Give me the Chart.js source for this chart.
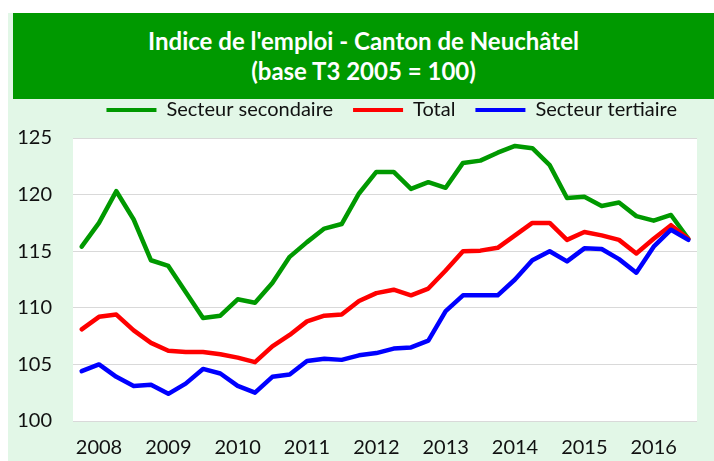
<!DOCTYPE html>
<html>
<head>
<meta charset="utf-8">
<script src="https://cdn.jsdelivr.net/npm/chart.js@4"></script>
<style>
  body { margin: 0; background: #fff; width: 714px; height: 461px; overflow: hidden; position: relative; font-family: Lato, sans-serif; }
  #frame { position: absolute; left: 8px; top: 13px; width: 706px; height: 448px; background: #e2f7e7; }
  #banner { position: absolute; left: 13px; top: 13px; width: 701px; height: 86px; background: #009900; z-index: 2;
            color: #fff; font-weight: bold; font-size: 24px; line-height: 30px; text-align: center;
            display: flex; flex-direction: column; justify-content: center; }
  #wrap { position: absolute; left: 8px; top: 80px; width: 706px; height: 381px; z-index: 1; }
</style>
</head>
<body>
<div id="frame"></div>
<div id="banner"><div>Indice de l'emploi - Canton de Neuchâtel</div><div>(base T3 2005 = 100)</div></div>
<div id="wrap"><canvas id="emploiChart"></canvas></div>
<script>
// quarters T4 2007 .. T3 2016
const quarters = ['T4 2007',
  'T1 2008', 'T2 2008', 'T3 2008', 'T4 2008',
  'T1 2009', 'T2 2009', 'T3 2009', 'T4 2009',
  'T1 2010', 'T2 2010', 'T3 2010', 'T4 2010',
  'T1 2011', 'T2 2011', 'T3 2011', 'T4 2011',
  'T1 2012', 'T2 2012', 'T3 2012', 'T4 2012',
  'T1 2013', 'T2 2013', 'T3 2013', 'T4 2013',
  'T1 2014', 'T2 2014', 'T3 2014', 'T4 2014',
  'T1 2015', 'T2 2015', 'T3 2015', 'T4 2015',
  'T1 2016', 'T2 2016', 'T3 2016'];

const secondaire = [115.4, 117.5, 120.3, 117.8, 114.2, 113.7, 111.4, 109.1, 109.3, 110.75, 110.45, 112.2,
  114.5, 115.8, 117.0, 117.4, 120.1, 122.0, 122.0, 120.5, 121.1, 120.6, 122.8, 123.0,
  123.7, 124.3, 124.1, 122.6, 119.7, 119.8, 119.0, 119.3, 118.1, 117.7, 118.2, 116.1];

const total = [108.1, 109.2, 109.4, 108.0, 106.9, 106.2, 106.1, 106.1, 105.9, 105.6, 105.2, 106.6,
  107.6, 108.8, 109.3, 109.4, 110.6, 111.3, 111.6, 111.1, 111.7, 113.3, 115.0, 115.05,
  115.3, 116.4, 117.5, 117.5, 116.0, 116.7, 116.4, 116.0, 114.8, 116.1, 117.3, 116.1];

const tertiaire = [104.4, 105.0, 103.9, 103.1, 103.2, 102.4, 103.3, 104.6, 104.2, 103.1, 102.5, 103.9,
  104.1, 105.3, 105.5, 105.4, 105.8, 106.0, 106.4, 106.5, 107.1, 109.7, 111.1, 111.1,
  111.1, 112.5, 114.2, 115.0, 114.1, 115.25, 115.2, 114.3, 113.1, 115.4, 116.9, 116.0];

const yTicks = [100, 105, 110, 115, 120, 125];

Chart.defaults.font.family = 'Lato, sans-serif';
Chart.defaults.color = '#111';

const plotBg = {
  id: 'plotBg',
  beforeDraw(chart) {
    const a = chart.chartArea, c = chart.ctx;
    c.save();
    c.fillStyle = '#fff';
    c.fillRect(a.left, a.top, a.right - a.left, a.bottom - a.top);
    c.restore();
  }
};

const line = (label, data, color, order) => ({
  label, data, order,
  borderColor: color, backgroundColor: color,
  borderWidth: 4.5, pointRadius: 0, tension: 0,
  borderJoinStyle: 'round', borderCapStyle: 'round'
});

new Chart(document.getElementById('emploiChart'), {
  type: 'line',
  data: {
    labels: quarters,
    datasets: [
      line('Secteur secondaire', secondaire, '#009900', 3),
      line('Total', total, '#ff0000', 2),
      line('Secteur tertiaire', tertiaire, '#0000ff', 1)
    ]
  },
  plugins: [plotBg],
  options: {
    responsive: true,
    maintainAspectRatio: false,
    animation: false,
    layout: { padding: { left: 0, right: 17, top: 0, bottom: 0 } },
    plugins: {
      tooltip: { enabled: false },
      legend: {
        position: 'top',
        align: 'end',
        fullSize: false,
        labels: {
          boxWidth: 50,
          boxHeight: 4,
          padding: 20,
          color: '#111',
          font: { size: 20 },
          sort: (a, b) => a.datasetIndex - b.datasetIndex,
          generateLabels(chart) {
            const items = Chart.defaults.plugins.legend.labels.generateLabels(chart);
            items.forEach(i => { i.lineWidth = 0; i.fillStyle = i.strokeStyle; });
            return items;
          }
        }
      }
    },
    scales: {
      x: {
        offset: true,
        grid: { display: false, drawTicks: false },
        border: { display: false },
        ticks: {
          autoSkip: false, maxRotation: 0, padding: 15,
          font: { size: 20 }, color: '#111',
          callback(v) {
            const q = quarters[v];
            return q.startsWith('T1') ? q.slice(3) : '';
          }
        },
        afterFit(s) { s.height = 40; }
      },
      xTop: {
        type: 'category',
        position: 'top',
        grid: { display: false, drawTicks: false },
        border: { display: false },
        ticks: { display: false },
        afterFit(s) { s.height = 8; }
      },
      y: {
        min: yTicks[0],
        max: yTicks[yTicks.length - 1],
        grid: { color: '#d9d9d9', lineWidth: 1, drawTicks: false },
        border: { display: false },
        ticks: { stepSize: 5, padding: 21, font: { size: 20 }, color: '#111' },
        afterFit(s) { s.width = 65; }
      }
    }
  }
});
</script>
</body>
</html>
